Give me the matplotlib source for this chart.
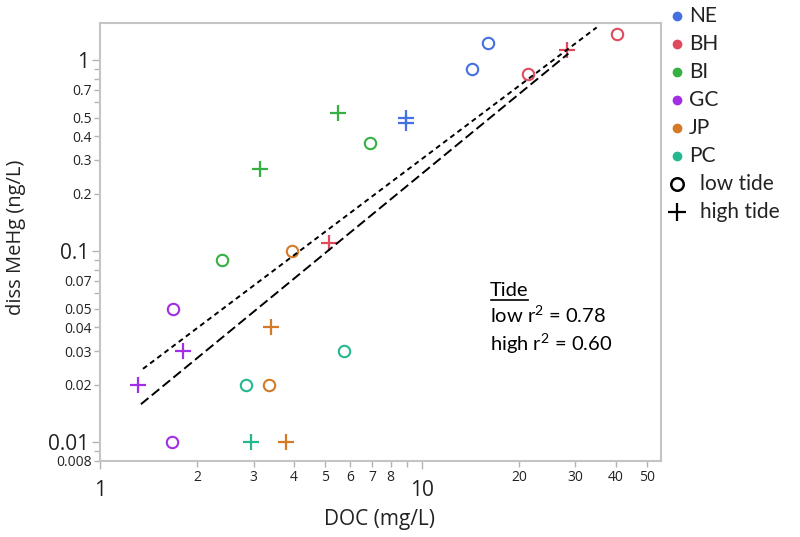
import matplotlib
matplotlib.use("Agg")
import matplotlib.pyplot as plt
from matplotlib.ticker import FixedLocator, FixedFormatter

sites = ["NE", "BH", "BI", "GC", "JP", "PC"]

# low tide samples
low_site = ["NE", "NE", "BH", "BH", "BI", "BI", "GC", "GC", "JP", "JP", "PC", "PC"]
low_doc = [14.3, 16.1, 21.3, 40.4, 6.9, 2.4, 1.68, 1.67, 3.94, 3.36, 2.84, 5.74]
low_hg = [0.90, 1.22, 0.84, 1.37, 0.37, 0.09, 0.05, 0.01, 0.10, 0.02, 0.02, 0.03]

# high tide samples
high_site = ["NE", "NE", "BH", "BH", "BI", "BI", "GC", "GC", "JP", "JP", "PC"]
high_doc = [8.9, 8.9, 28.3, 5.15, 3.14, 5.47, 1.81, 1.31, 3.39, 3.77, 2.94]
high_hg = [0.50, 0.47, 1.13, 0.11, 0.27, 0.53, 0.03, 0.02, 0.04, 0.01, 0.01]

# regression lines, end points
low_fit_doc = [1.36, 34.9]
low_fit_hg = [0.0242, 1.48]
high_fit_doc = [1.34, 28.5]
high_fit_hg = [0.0158, 1.08]

x_major = [1, 10]
x_minor = [2, 3, 4, 5, 6, 7, 8, 9, 20, 30, 40, 50]
x_minor_labels = ["2", "3", "4", "5", "6", "7", "8", "", "20", "30", "40", "50"]
y_major = [0.01, 0.1, 1]
y_major_labels = ["0.01", "0.1", "1"]
y_minor = [0.008, 0.009, 0.02, 0.03, 0.04, 0.05, 0.06, 0.07, 0.08, 0.09,
           0.2, 0.3, 0.4, 0.5, 0.6, 0.7, 0.8, 0.9]
y_minor_labels = ["0.008", "", "0.02", "0.03", "0.04", "0.05", "", "0.07", "", "",
                  "0.2", "0.3", "0.4", "0.5", "", "0.7", "", ""]

r2_labels = ["low r$^2$ = 0.78", "high r$^2$ = 0.60"]

colors = {"NE": "#4470e0", "BH": "#e04a5c", "BI": "#36b043",
          "GC": "#a22ee6", "JP": "#d47a26", "PC": "#25b890"}

plt.rcParams["font.family"] = ["Open Sans", "DejaVu Sans"]
plt.rcParams["mathtext.fontset"] = "custom"
plt.rcParams["mathtext.rm"] = "Lato"
plt.rcParams["mathtext.it"] = "Lato"
txt_color = "#222222"
calibri_like = ["Lato", "DejaVu Sans"]

fig = plt.figure(figsize=(8, 5.37), dpi=100)
ax = fig.add_axes([100 / 800, 1 - 460.7 / 537, 561 / 800, 437.4 / 537])
ax.set_xscale("log")
ax.set_yscale("log")
ax.set_xlim(1, 55.3)
ax.set_ylim(0.008, 1.556)

for d, h, s in zip(low_doc, low_hg, low_site):
    ax.plot(d, h, "o", ms=8.2, mfc="none", mec=colors[s], mew=1.5)
for d, h, s in zip(high_doc, high_hg, high_site):
    ax.plot(d, h, "+", ms=12, mec=colors[s], mew=1.6)

ax.plot(low_fit_doc, low_fit_hg, color="black", lw=1.4, ls=(0, (2.6, 2.0)))
ax.plot(high_fit_doc, high_fit_hg, color="black", lw=1.4, ls=(0, (5.0, 2.2)))

# ticks
ax.xaxis.set_major_locator(FixedLocator(x_major))
ax.xaxis.set_major_formatter(FixedFormatter([str(v) for v in x_major]))
ax.xaxis.set_minor_locator(FixedLocator(x_minor))
ax.xaxis.set_minor_formatter(FixedFormatter(x_minor_labels))
ax.yaxis.set_major_locator(FixedLocator(y_major))
ax.yaxis.set_major_formatter(FixedFormatter(y_major_labels))
ax.yaxis.set_minor_locator(FixedLocator(y_minor))
ax.yaxis.set_minor_formatter(FixedFormatter(y_minor_labels))

ax.tick_params(which="major", length=6, width=1, color="#b4b4b4",
               labelsize=15, labelcolor=txt_color)
ax.tick_params(which="minor", length=4, width=1, color="#b4b4b4",
               labelsize=10, labelcolor=txt_color)
ax.tick_params(axis="x", which="major", pad=8)
ax.tick_params(axis="x", which="minor", pad=3)
ax.tick_params(axis="y", which="major", pad=2)
ax.tick_params(axis="y", which="minor", pad=2)

for sp in ax.spines.values():
    sp.set_color("#c4c4c4")
    sp.set_linewidth(1.5)

fig.text(380 / 800, 1 - 520 / 537, "DOC (mg/L)", ha="center", va="center",
         fontsize=15, color=txt_color)
fig.text(16 / 800, 1 - 237 / 537, "diss MeHg (ng/L)", ha="center", va="center",
         rotation=90, fontsize=14.5, color=txt_color)

# overlay in pixel coordinates for legend and annotation
pix = fig.add_axes([0, 0, 1, 1])
pix.set_xlim(0, 800)
pix.set_ylim(537, 0)
pix.axis("off")

for i, s in enumerate(sites):
    y = 16 + 28 * i
    pix.plot(677, y, "o", ms=6, color=colors[s])
    pix.text(689, y, s, va="center", ha="left", fontsize=15,
             family=calibri_like, color=txt_color)
y = 16 + 28 * len(sites)
pix.plot(677, y, "o", ms=9, mfc="none", mec="black", mew=1.8)
pix.text(700, y, "low tide", va="center", ha="left", fontsize=15,
         family=calibri_like, color=txt_color)
y += 28
pix.plot(677, y, "+", ms=13, mec="black", mew=1.6)
pix.text(700, y, "high tide", va="center", ha="left", fontsize=15,
         family=calibri_like, color=txt_color)

tide = pix.text(490, 296.5, "Tide", va="baseline", ha="left", fontsize=14.5,
                family=calibri_like, color="black")
for i, lab in enumerate(r2_labels):
    pix.text(490, 323 + 27.3 * i, lab, va="baseline", ha="left", fontsize=14.5,
             family=calibri_like, color="black")

fig.canvas.draw()
bb = tide.get_window_extent()
x0, _ = pix.transData.inverted().transform((bb.x0, bb.y0))
x1, _ = pix.transData.inverted().transform((bb.x1, bb.y0))
pix.plot([x0 + 1, x1 - 1], [299.5, 299.5], color="black", lw=1.2)

fig.savefig("out.png", dpi=100)
